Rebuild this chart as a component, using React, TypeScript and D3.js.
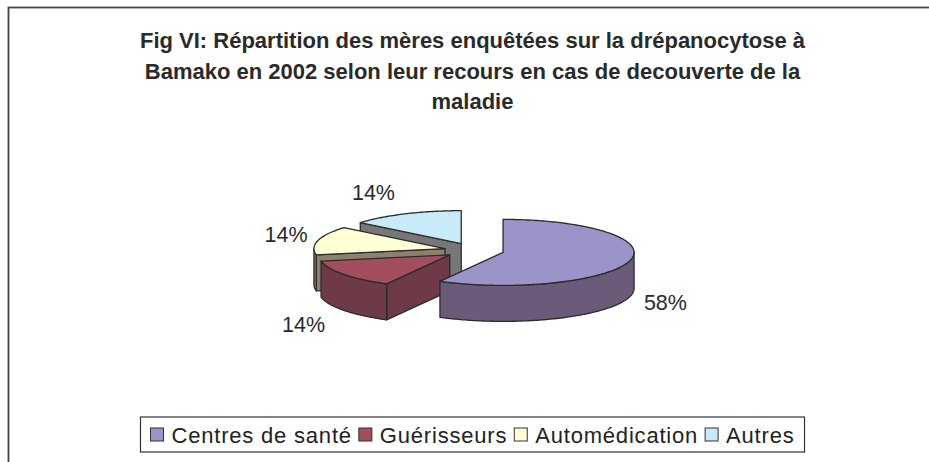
import React, { useEffect, useRef } from "react";
import * as d3 from "d3";

const categories = ["Centres de santé", "Guérisseurs", "Automédication", "Autres"];
const values = [58, 14, 14, 14];
const percentLabels = ["58%", "14%", "14%", "14%"];
const topColors = ["#9A94C9", "#A34E5F", "#FFFFD6", "#C8EAF9"];
const sideColors = ["#6B5B79", "#6F3A47", "#8F806D", "#777777"];
const titleLines = [
  "Fig VI: Répartition des mères enquêtées sur la drépanocytose à",
  "Bamako en 2002 selon leur recours en cas de decouverte de la",
  "maladie",
];

const W = 929;
const H = 462;
const FONT = "'Liberation Sans', Arial, Helvetica, sans-serif";

export default function App() {
  const ref = useRef<SVGSVGElement>(null);

  useEffect(() => {
    const svg = d3.select(ref.current);
    svg.selectAll("*").remove();

    svg
      .append("rect")
      .attr("x", 8.5)
      .attr("y", 7.5)
      .attr("width", W + 20)
      .attr("height", H + 20)
      .attr("fill", "#fff")
      .attr("stroke", "#444")
      .attr("stroke-width", 1.8);

    // title
    const titleG = svg
      .append("text")
      .attr("font-family", FONT)
      .attr("font-weight", "bold")
      .attr("font-size", 22)
      .attr("fill", "#2a2a2a")
      .attr("text-anchor", "middle");
    titleLines.forEach((t, i) => {
      titleG
        .append("tspan")
        .attr("x", 472.5)
        .attr("y", 48 + i * 30.5)
        .text(t);
    });

    // 3D pie
    const cx = 474,
      cy = 250.5,
      rx = 131,
      ry = 33,
      depth = 36,
      explode = 0.229;
    const arcs = d3.pie<number>().sort(null).value((d) => d)(values);

    type Face = { pts: [number, number][]; fill: string; key: number; stage: number };
    const faces: Face[] = [];

    arcs.forEach((a, i) => {
      const s = a.startAngle,
        e = a.endAngle,
        mid = (s + e) / 2;
      const ou = explode * Math.sin(mid),
        ov = explode * Math.cos(mid);
      const P = (ang: number, r: number, h: number): [number, number] => [
        cx + rx * (ou + r * Math.sin(ang)),
        cy - ry * (ov + r * Math.cos(ang)) + h,
      ];
      const arcPts = (a0: number, a1: number, h: number) => {
        const n = Math.max(2, Math.ceil(((a1 - a0) * 180) / Math.PI));
        return d3.range(n + 1).map((k) => P(a0 + ((a1 - a0) * k) / n, 1, h));
      };
      faces.push({ pts: [P(0, 0, 0), ...arcPts(s, e, 0)], fill: topColors[i], key: ov, stage: 1 });
      const ss = Math.max(s, Math.PI / 2),
        se = Math.min(e, (3 * Math.PI) / 2);
      if (se > ss) {
        const top = arcPts(ss, se, 0);
        const bot = arcPts(ss, se, depth).reverse();
        faces.push({
          pts: [...top, ...bot],
          fill: sideColors[i],
          key: ov + Math.cos((ss + se) / 2),
          stage: 0,
        });
      }
      if (Math.sin(s) < -0.01) {
        faces.push({
          pts: [P(0, 0, 0), P(s, 1, 0), P(s, 1, depth), P(0, 0, depth)],
          fill: sideColors[i],
          key: ov + Math.cos(s) / 2,
          stage: 0,
        });
      }
      if (Math.sin(e) > 0.01) {
        faces.push({
          pts: [P(0, 0, 0), P(e, 1, 0), P(e, 1, depth), P(0, 0, depth)],
          fill: sideColors[i],
          key: ov + Math.cos(e) / 2,
          stage: 0,
        });
      }
    });

    faces.sort((f1, f2) => (f1.stage - f2.stage) || (f2.key - f1.key));
    const line = d3.line<[number, number]>();
    const pieG = svg.append("g");
    faces.forEach((f) => {
      pieG
        .append("path")
        .attr("d", line(f.pts) + "Z")
        .attr("fill", f.fill)
        .attr("stroke", "#2b2b2b")
        .attr("stroke-width", 1.3)
        .attr("stroke-linejoin", "round");
    });

    // labels
    arcs.forEach((a, i) => {
      const mid = (a.startAngle + a.endAngle) / 2;
      const u = Math.sin(mid),
        v = Math.cos(mid);
      const ou = explode * u,
        ov = explode * v;
      const h = v < 0 ? depth : 0;
      const ax = cx + rx * (ou + u);
      const ay = cy - ry * (ov + v) + h;
      const lx = ax + Math.sign(u) * (32 + Math.max(0, -v) * 14);
      const ly = ay - v * 24;
      svg
        .append("text")
        .attr("x", lx)
        .attr("y", ly)
        .attr("dy", "0.36em")
        .attr("text-anchor", "middle")
        .attr("font-family", FONT)
        .attr("font-size", 21.5)
        .attr("fill", "#2a2a2a")
        .text(percentLabels[i]);
    });

    // legend
    const legG = svg.append("g");
    const fs = 22,
      sq = 13,
      gapSq = 8,
      gapItem = 7,
      padX = 10;
    const texts = categories.map((c) =>
      legG
        .append("text")
        .attr("font-family", FONT)
        .attr("font-size", fs)
        .attr("letter-spacing", 0.8)
        .attr("fill", "#222")
        .text(c)
    );
    const widths = texts.map((t) => (t.node() as SVGTextElement).getComputedTextLength());
    const total = widths.reduce((acc, w) => acc + sq + gapSq + w, 0) + gapItem * (categories.length - 1);
    const boxW = total + padX * 2;
    const boxX = 472.5 - boxW / 2;
    const boxY = 417,
      boxH = 35;
    legG
      .insert("rect", ":first-child")
      .attr("x", boxX)
      .attr("y", boxY)
      .attr("width", boxW)
      .attr("height", boxH)
      .attr("fill", "#fff")
      .attr("stroke", "#333")
      .attr("stroke-width", 1.2);
    let x = boxX + padX;
    categories.forEach((c, i) => {
      legG
        .append("rect")
        .attr("x", x)
        .attr("y", boxY + 11)
        .attr("width", sq)
        .attr("height", sq)
        .attr("fill", topColors[i])
        .attr("stroke", "#333")
        .attr("stroke-width", 1);
      texts[i].attr("x", x + sq + gapSq).attr("y", boxY + 25.5);
      x += sq + gapSq + widths[i] + gapItem;
    });
  }, []);

  return (
    <svg
      ref={ref}
      width={W}
      height={H}
      style={{ position: "absolute", left: 0, top: 0, background: "#fff" }}
    />
  );
}
